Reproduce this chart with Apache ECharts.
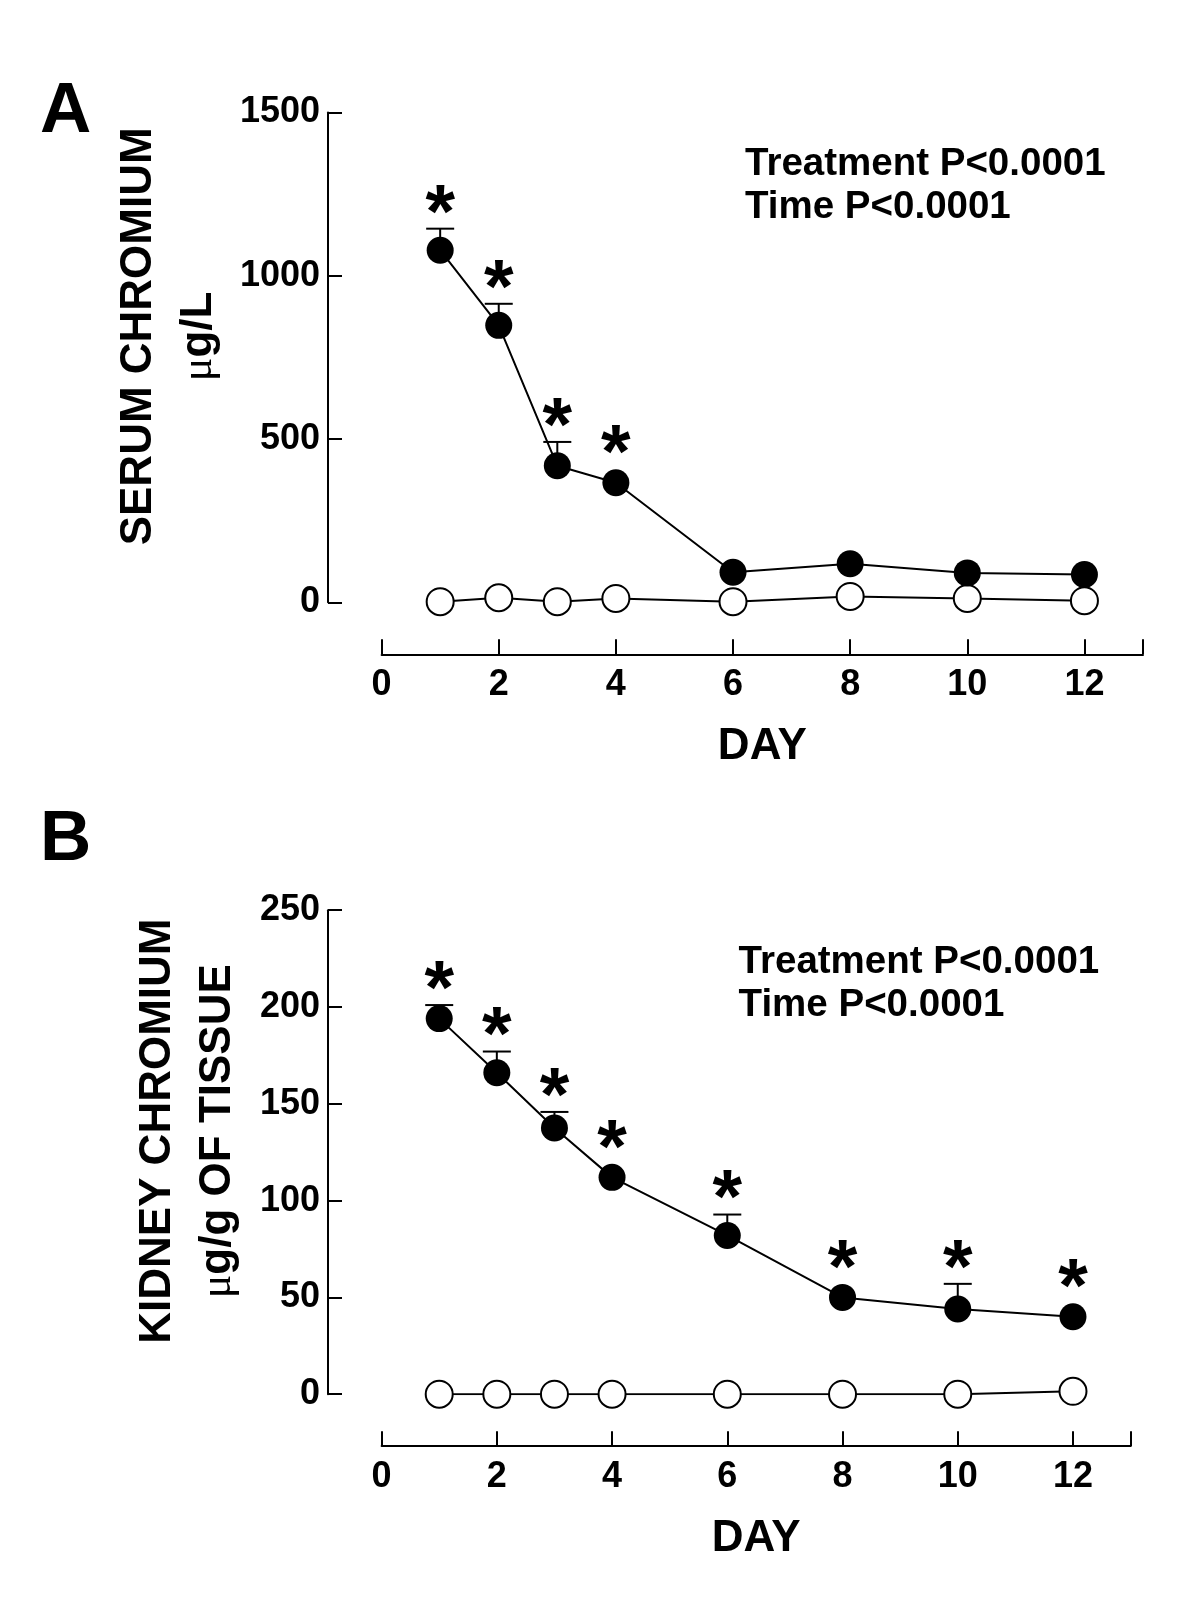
<!DOCTYPE html>
<html>
<head>
<meta charset="utf-8">
<script src="https://cdn.jsdelivr.net/npm/echarts@6/dist/echarts.min.js"></script>
<style>
  html, body { margin: 0; background: #fff; }
  #chart { width: 1200px; height: 1600px; }
</style>
</head>
<body>
<div id="chart"></div>
<script>
  // days sampled
  const days = [1, 2, 3, 4, 6, 8, 10, 12]
  // panel A: serum chromium, ug/L
  const serumCr = [1078, 848, 418, 366, 92, 118, 90, 85]
  const serumCrSE = [66, 66, 73, 0, 0, 0, 0, 0]
  const serumCtrl = [2, 14, 2, 12, 2, 18, 12, 5]
  const serumStar = [1, 1, 1, 1, 0, 0, 0, 0]
  // panel B: kidney chromium, ug/g of tissue
  const kidneyCr = [194, 166, 137.5, 112, 82, 50, 44, 40]
  const kidneyCrSE = [7, 11, 8.3, 0, 10.8, 0, 13, 0]
  const kidneyCtrl = [0, 0, 0, 0, 0, 0, 0, 1.5]
  const kidneyStar = [1, 1, 1, 1, 1, 1, 1, 1]
  // axis ticks
  const dayLabels = [0, 2, 4, 6, 8, 10, 12]
  const dayTicks = [0, 2, 4, 6, 8, 10, 12, 13]

  const FONT = '"Liberation Sans", Arial, sans-serif'
  const DOT = 27

  const pairs = (ys) => days.map((d, i) => [d, ys[i]])
  const errRows = (ys, se, star) => days.map((d, i) => [d, ys[i], se[i], star[i]])

  function errorBars(params, api) {
    const x = api.value(0)
    const y = api.value(1)
    const se = api.value(2)
    const star = api.value(3)
    const p = api.coord([x, y])
    const t = api.coord([x, y + se])
    const r = DOT / 2
    const children = []
    let top = p[1] - r
    if (se > 0 && t[1] <= p[1] - r + 1) {
      children.push({ type: 'line', shape: { x1: p[0], y1: p[1], x2: t[0], y2: t[1] },
        style: { stroke: '#000', lineWidth: 2 } })
      children.push({ type: 'line', shape: { x1: t[0] - 14, y1: t[1], x2: t[0] + 14, y2: t[1] },
        style: { stroke: '#000', lineWidth: 2 } })
      top = t[1]
    }
    if (star) {
      // asterisk sits about 30px above the bar cap (or the dot)
      children.push({ type: 'text', x: p[0], y: top - 13,
        style: { text: '*', fontSize: 76, fontWeight: 'bold', fontFamily: FONT,
          fill: '#000', align: 'center', verticalAlign: 'middle' } })
    }
    return { type: 'group', children }
  }

  function xAxisOf(grid) {
    return {
      type: 'value', gridIndex: grid, min: 0, max: 13, interval: 2, offset: 52,
      name: 'DAY', nameLocation: 'middle', nameGap: 71,
      nameTextStyle: { fontSize: 44, fontWeight: 'bold', fontFamily: FONT, color: '#000', lineHeight: 44 },
      axisLine: { onZero: false, lineStyle: { color: '#000', width: 2 } },
      axisTick: { inside: true, length: 15, customValues: dayTicks, lineStyle: { color: '#000', width: 2 } },
      axisLabel: { customValues: dayLabels, margin: 13, fontSize: 36, fontWeight: 'bold',
        fontFamily: FONT, color: '#000', lineHeight: 36 },
      splitLine: { show: false }
    }
  }

  function yAxisOf(grid, max, interval, title, gap) {
    return {
      type: 'value', gridIndex: grid, min: 0, max: max, interval: interval, offset: 53.6,
      name: title, nameLocation: 'middle', nameRotate: 90, nameGap: gap,
      nameTextStyle: {
        padding: [0, 0, 0, 42],
        rich: {
          t: { fontSize: 44, fontWeight: 'bold', fontFamily: FONT, color: '#000', lineHeight: 60 },
          mu: { fontSize: 44, fontFamily: '"Liberation Serif", serif', color: '#000', lineHeight: 60 },
          u: { fontSize: 44, fontWeight: 'bold', fontFamily: FONT, color: '#000', lineHeight: 60 }
        }
      },
      axisLine: { onZero: false, lineStyle: { color: '#000', width: 2 } },
      axisTick: { inside: true, length: 14, lineStyle: { color: '#000', width: 2 } },
      axisLabel: { margin: 8, fontSize: 36, fontWeight: 'bold', fontFamily: FONT, color: '#000',
        formatter: (v) => String(v) },
      splitLine: { show: false }
    }
  }

  function panelSeries(idx, treated, se, ctrl, stars) {
    return [
      {
        type: 'line', xAxisIndex: idx, yAxisIndex: idx, data: pairs(ctrl),
        symbol: 'circle', symbolSize: DOT, z: 2,
        lineStyle: { color: '#000', width: 2 },
        itemStyle: { color: '#fff', borderColor: '#000', borderWidth: 2 }
      },
      {
        type: 'custom', xAxisIndex: idx, yAxisIndex: idx, z: 1,
        data: errRows(treated, se, stars), renderItem: errorBars
      },
      {
        type: 'line', xAxisIndex: idx, yAxisIndex: idx, data: pairs(treated),
        symbol: 'circle', symbolSize: DOT, z: 3,
        lineStyle: { color: '#000', width: 2 },
        itemStyle: { color: '#000', borderColor: '#000', borderWidth: 0 }
      }
    ]
  }

  function note(x, y, text, size) {
    return { type: 'text', x: x, y: y,
      style: { text: text, fontSize: size, fontWeight: 'bold', fontFamily: FONT,
        fill: '#000', align: 'left', verticalAlign: 'middle' } }
  }

  const chart = echarts.init(document.getElementById('chart'))
  chart.setOption({
    backgroundColor: '#fff',
    animation: false,
    grid: [
      { left: 381.6, right: 57, top: 112.4, height: 489.9 },
      { left: 381.6, right: 69.4, top: 910.2, height: 484 }
    ],
    xAxis: [xAxisOf(0), xAxisOf(1)],
    yAxis: [
      yAxisOf(0, 1500, 500, '{t|SERUM CHROMIUM}\n{mu|\u03bc}{u|g/L}', 99),
      yAxisOf(1, 250, 50, '{t|KIDNEY CHROMIUM}\n{mu|\u03bc}{u|g/g OF TISSUE}', 80)
    ],
    series: [
      ...panelSeries(0, serumCr, serumCrSE, serumCtrl, serumStar),
      ...panelSeries(1, kidneyCr, kidneyCrSE, kidneyCtrl, kidneyStar)
    ],
    graphic: [
      note(40, 112, 'A', 71),
      note(40, 840, 'B', 71),
      note(745, 164, 'Treatment P<0.0001', 38.5),
      note(745, 207, 'Time P<0.0001', 38.5),
      note(738.6, 962, 'Treatment P<0.0001', 38.5),
      note(738.6, 1005, 'Time P<0.0001', 38.5)
    ]
  })
</script>
</body>
</html>
